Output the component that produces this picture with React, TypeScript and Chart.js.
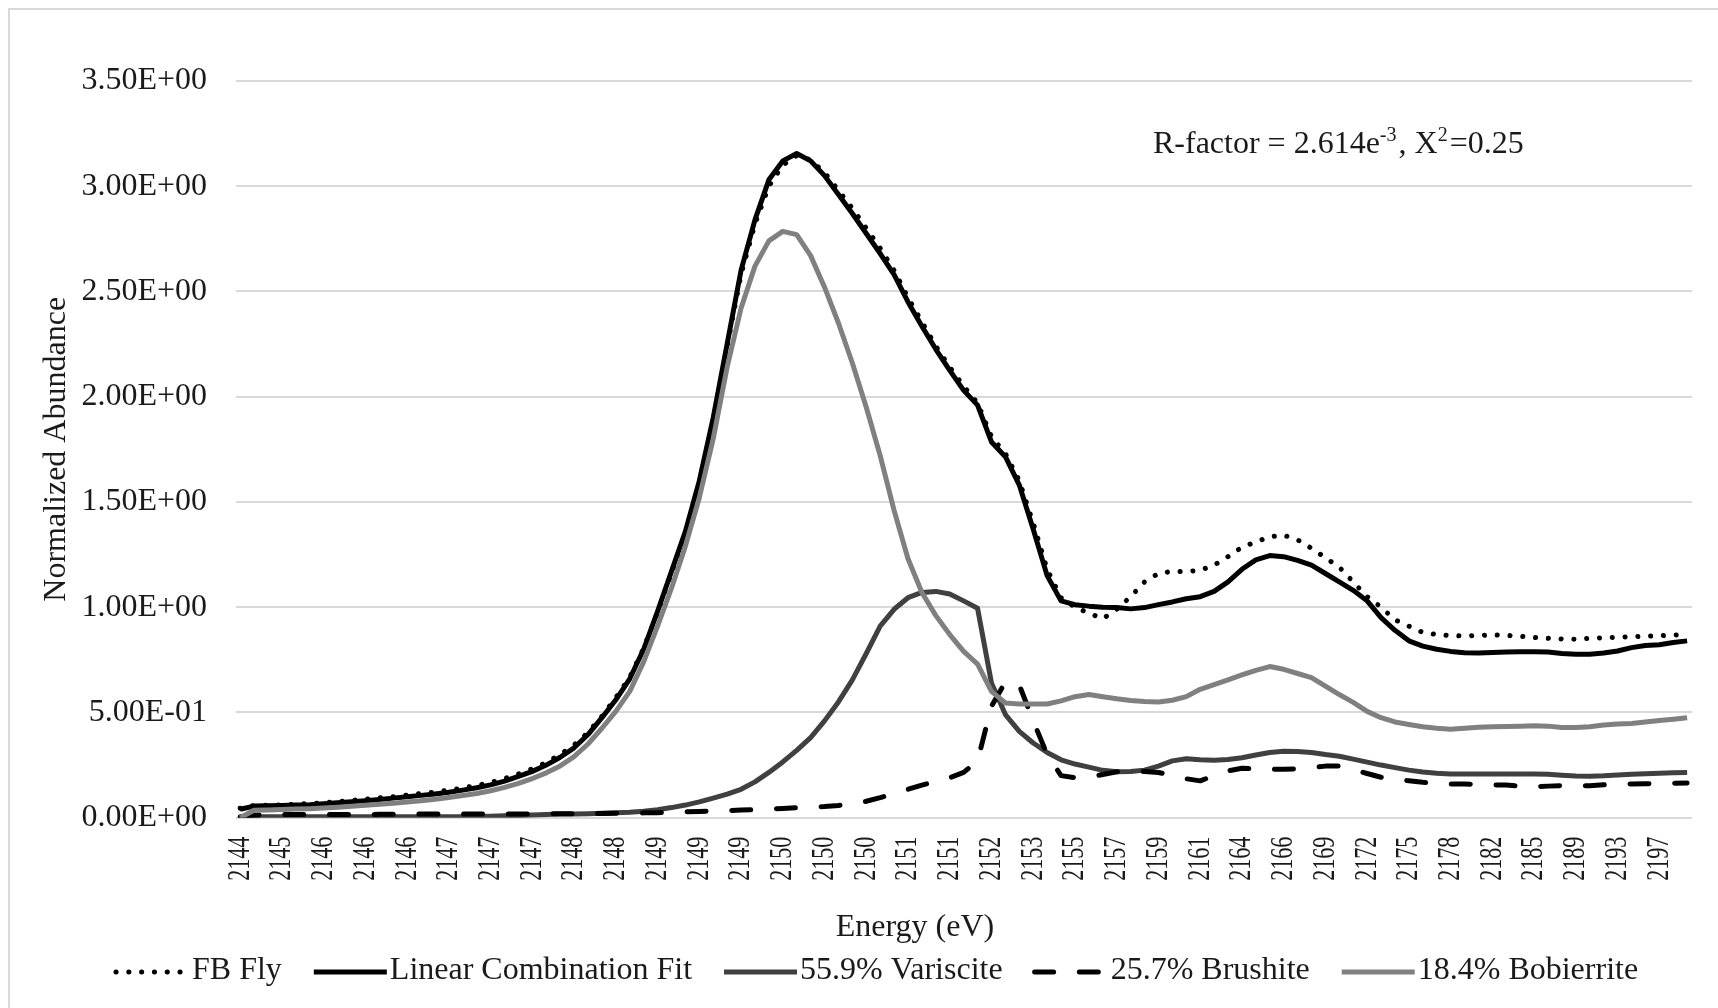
import React, { useEffect, useRef } from "react";
import { Chart, registerables } from "chart.js";

Chart.register(...registerables);

// Category tick labels (every 3rd energy point is labelled)
const energyTicks = [
  "2144", "2145", "2146", "2146", "2146", "2147", "2147", "2147", "2148", "2148",
  "2149", "2149", "2149", "2150", "2150", "2150", "2151", "2151", "2152", "2153",
  "2155", "2157", "2159", "2161", "2164", "2166", "2169", "2172", "2175", "2178",
  "2182", "2185", "2189", "2193", "2197",
];
const TICK_STEP = 3;

const seriesNames = [
  "FB Fly",
  "Linear Combination Fit",
  "55.9% Variscite",
  "25.7% Brushite",
  "18.4% Bobierrite",
];

const fbFly = [
  0.045, 0.058, 0.060, 0.061, 0.064, 0.067, 0.071, 0.077, 0.082, 0.088,
  0.094, 0.100, 0.107, 0.115, 0.122, 0.131, 0.141, 0.153, 0.167, 0.186,
  0.208, 0.232, 0.262, 0.300, 0.346, 0.405, 0.482, 0.570, 0.668, 0.805,
  0.975, 1.160, 1.350, 1.590, 1.890, 2.240, 2.580, 2.820, 3.000, 3.100,
  3.145, 3.125, 3.065, 2.980, 2.895, 2.800, 2.705, 2.600, 2.470, 2.355,
  2.240, 2.140, 2.050, 1.970, 1.810, 1.730, 1.600, 1.400, 1.180, 1.045,
  1.000, 0.972, 0.945, 0.990, 1.050, 1.120, 1.160, 1.170, 1.170, 1.175,
  1.200, 1.240, 1.285, 1.310, 1.335, 1.342, 1.320, 1.280, 1.235, 1.190,
  1.120, 1.050, 1.000, 0.940, 0.910, 0.880, 0.870, 0.865, 0.863, 0.866,
  0.868, 0.866, 0.862, 0.856, 0.852, 0.849, 0.848, 0.852, 0.855, 0.857,
  0.860, 0.862, 0.864, 0.868, 0.870,
];

const lcFit = [
  0.040, 0.055, 0.057, 0.058, 0.060, 0.062, 0.066, 0.071, 0.076, 0.081,
  0.087, 0.093, 0.099, 0.106, 0.113, 0.121, 0.131, 0.142, 0.156, 0.174,
  0.196, 0.220, 0.250, 0.287, 0.332, 0.395, 0.475, 0.560, 0.660, 0.800,
  0.980, 1.170, 1.360, 1.600, 1.900, 2.250, 2.600, 2.840, 3.030, 3.120,
  3.155, 3.120, 3.050, 2.960, 2.870, 2.775, 2.680, 2.580, 2.450, 2.335,
  2.225, 2.125, 2.030, 1.960, 1.785, 1.715, 1.580, 1.370, 1.150, 1.030,
  1.012, 1.005, 1.000, 0.998, 0.992, 0.998, 1.012, 1.025, 1.040, 1.050,
  1.075, 1.120, 1.180, 1.225, 1.245, 1.240, 1.222, 1.200, 1.160, 1.120,
  1.080, 1.030, 0.950, 0.890, 0.840, 0.815, 0.800, 0.790, 0.784, 0.782,
  0.785, 0.787, 0.788, 0.788, 0.787, 0.780, 0.776, 0.776, 0.782, 0.792,
  0.808, 0.818, 0.822, 0.832, 0.840,
];

const variscite = [
  0.000, 0.004, 0.005, 0.005, 0.005, 0.005, 0.005, 0.005, 0.005, 0.005,
  0.005, 0.005, 0.005, 0.005, 0.005, 0.005, 0.005, 0.006, 0.007, 0.009,
  0.011, 0.013, 0.015, 0.017, 0.018, 0.019, 0.021, 0.023, 0.026, 0.031,
  0.038, 0.048, 0.060, 0.075, 0.093, 0.112, 0.135, 0.170, 0.215, 0.265,
  0.320, 0.380, 0.460, 0.550, 0.655, 0.780, 0.910, 0.990, 1.045, 1.070,
  1.075, 1.063, 1.030, 0.995, 0.640, 0.490, 0.410, 0.355, 0.310, 0.275,
  0.255, 0.240, 0.225, 0.218, 0.220, 0.226, 0.245, 0.270, 0.280, 0.275,
  0.273, 0.276, 0.285, 0.298, 0.310, 0.316, 0.315, 0.310, 0.300, 0.292,
  0.278, 0.264, 0.250, 0.238, 0.226, 0.217, 0.211, 0.208, 0.207, 0.207,
  0.207, 0.207, 0.207, 0.207, 0.206, 0.202, 0.198, 0.197, 0.199, 0.203,
  0.206, 0.209, 0.211, 0.213, 0.215,
];

const brushite = [
  0.005, 0.012, 0.015, 0.015, 0.015, 0.015, 0.015, 0.015, 0.015, 0.015,
  0.016, 0.016, 0.017, 0.017, 0.017, 0.017, 0.017, 0.017, 0.018, 0.018,
  0.018, 0.018, 0.018, 0.019, 0.019, 0.020, 0.020, 0.021, 0.022, 0.023,
  0.024, 0.025, 0.028, 0.030, 0.032, 0.034, 0.036, 0.038, 0.041, 0.044,
  0.047, 0.050, 0.053, 0.058, 0.066, 0.078, 0.095, 0.115, 0.135, 0.155,
  0.172, 0.190, 0.215, 0.270, 0.530, 0.645, 0.630, 0.460, 0.300, 0.200,
  0.190, 0.192, 0.205, 0.218, 0.220, 0.220, 0.215, 0.200, 0.185, 0.175,
  0.200, 0.222, 0.235, 0.232, 0.230, 0.230, 0.232, 0.238, 0.245, 0.245,
  0.228, 0.210, 0.192, 0.182, 0.175, 0.168, 0.163, 0.160, 0.160, 0.158,
  0.156, 0.155, 0.150, 0.147, 0.150, 0.152, 0.151, 0.152, 0.156, 0.159,
  0.160, 0.161, 0.163, 0.164, 0.165,
];

const bobierrite = [
  0.000, 0.035, 0.037, 0.039, 0.041, 0.043, 0.046, 0.050, 0.054, 0.059,
  0.064, 0.069, 0.075, 0.081, 0.088, 0.096, 0.105, 0.115, 0.128, 0.144,
  0.163, 0.186, 0.213, 0.246, 0.290, 0.350, 0.425, 0.505, 0.600, 0.740,
  0.910, 1.090, 1.290, 1.520, 1.800, 2.140, 2.420, 2.620, 2.740, 2.785,
  2.770, 2.670, 2.520, 2.350, 2.160, 1.950, 1.720, 1.460, 1.230, 1.070,
  0.960, 0.870, 0.790, 0.730, 0.600, 0.545, 0.540, 0.540, 0.540, 0.555,
  0.575, 0.585, 0.575, 0.565, 0.557, 0.552, 0.550, 0.558, 0.575, 0.610,
  0.632, 0.655, 0.678, 0.700, 0.718, 0.705, 0.685, 0.665, 0.625, 0.585,
  0.548, 0.505, 0.475, 0.455, 0.443, 0.432, 0.425, 0.420, 0.425, 0.430,
  0.432, 0.433, 0.435, 0.437, 0.435, 0.428, 0.428, 0.432, 0.440, 0.445,
  0.448, 0.455, 0.462, 0.468, 0.475,
];

const FONT = '"Liberation Serif", "Times New Roman", serif';
const TEXT = "#1a1a1a";

function sci(v: number): string {
  if (Math.abs(v) < 1e-12) return "0.00E+00";
  let e = Math.floor(Math.log10(Math.abs(v)) + 1e-9);
  let m = v / Math.pow(10, e);
  if (Math.abs(m) >= 9.995) {
    m /= 10;
    e += 1;
  }
  const sign = e < 0 ? "-" : "+";
  return m.toFixed(2) + "E" + sign + String(Math.abs(e)).padStart(2, "0");
}

const toPoints = (arr: number[]) => arr.map((y, i) => ({ x: i, y }));

const decorPlugin = {
  id: "decor",
  beforeDraw(chart: any) {
    const { ctx, width, height } = chart;
    ctx.save();
    ctx.fillStyle = "#ffffff";
    ctx.fillRect(0, 0, width, height);
    ctx.fillStyle = "#d9d9d9";
    ctx.fillRect(0, 0, width, 2);
    ctx.fillRect(0, 0, 2, height);
    ctx.restore();
  },
  afterDraw(chart: any) {
    const { ctx } = chart;
    const xs = chart.scales.x;
    const area = chart.chartArea;
    ctx.save();
    ctx.fillStyle = TEXT;

    // x tick labels (rotated, condensed)
    ctx.font = `32px ${FONT}`;
    energyTicks.forEach((lab, k) => {
      const px = xs.getPixelForValue(k * TICK_STEP);
      ctx.save();
      ctx.translate(px, area.bottom + 19);
      ctx.rotate(-Math.PI / 2);
      ctx.scale(0.69, 1);
      ctx.textAlign = "right";
      ctx.textBaseline = "middle";
      ctx.fillText(lab, 0, 0);
      ctx.restore();
    });

    // y axis title
    ctx.save();
    ctx.translate(49, (area.top + area.bottom) / 2);
    ctx.rotate(-Math.PI / 2);
    ctx.textAlign = "center";
    ctx.textBaseline = "middle";
    ctx.font = `32px ${FONT}`;
    ctx.fillText("Normalized Abundance", 0, 0);
    ctx.restore();

    // x axis title
    ctx.textAlign = "center";
    ctx.textBaseline = "middle";
    ctx.font = `32px ${FONT}`;
    ctx.fillText("Energy (eV)", 907, 920);

    // annotation
    ctx.textAlign = "left";
    ctx.textBaseline = "alphabetic";
    let ax = 1145;
    const base = 145;
    const big = `32px ${FONT}`;
    const small = `20px ${FONT}`;
    const parts: [string, boolean][] = [
      ["R-factor = 2.614e", false],
      ["-3", true],
      [", X", false],
      ["2", true],
      ["=0.25", false],
    ];
    parts.forEach(([t, sup]) => {
      ctx.font = sup ? small : big;
      ctx.fillText(t, ax, sup ? base - 12 : base);
      ax += ctx.measureText(t).width + (sup ? 2 : 0);
    });

    // legend
    let lx = 108;
    const ly = 963;
    chart.data.datasets.forEach((ds: any) => {
      ctx.save();
      ctx.strokeStyle = ds.borderColor;
      ctx.lineWidth = ds.borderWidth;
      ctx.lineCap = ds.borderCapStyle || "butt";
      ctx.setLineDash(ds.borderDash || []);
      ctx.beginPath();
      ctx.moveTo(lx, ly + 1);
      ctx.lineTo(lx + 73, ly + 1);
      ctx.stroke();
      ctx.restore();
      ctx.font = `32px ${FONT}`;
      ctx.textAlign = "left";
      ctx.textBaseline = "middle";
      ctx.fillStyle = TEXT;
      ctx.fillText(ds.label, lx + 76, ly);
      lx += 76 + ctx.measureText(ds.label).width + 32;
    });

    ctx.restore();
  },
};

export default function App() {
  const ref = useRef<HTMLCanvasElement>(null);

  useEffect(() => {
    const canvas = ref.current;
    if (!canvas) return;
    const chart = new Chart(canvas, {
      type: "line",
      data: {
        datasets: [
          {
            label: seriesNames[0],
            data: toPoints(fbFly),
            borderColor: "#000000",
            borderWidth: 5,
            borderDash: [0.1, 12.7],
            borderCapStyle: "round",
            order: 5,
          },
          {
            label: seriesNames[1],
            data: toPoints(lcFit),
            borderColor: "#000000",
            borderWidth: 5,
            borderCapStyle: "butt",
            order: 4,
          },
          {
            label: seriesNames[2],
            data: toPoints(variscite),
            borderColor: "#404040",
            borderWidth: 5,
            borderCapStyle: "butt",
            order: 3,
          },
          {
            label: seriesNames[3],
            data: toPoints(brushite),
            borderColor: "#000000",
            borderWidth: 5,
            borderDash: [19, 25.7],
            borderCapStyle: "round",
            order: 2,
          },
          {
            label: seriesNames[4],
            data: toPoints(bobierrite),
            borderColor: "#808080",
            borderWidth: 5,
            borderCapStyle: "butt",
            order: 1,
          },
        ] as any,
      },
      options: {
        responsive: false,
        animation: false,
        devicePixelRatio: 1,
        events: [],
        layout: { padding: { left: 0, right: 26, top: 72.9, bottom: 190.3 } },
        elements: {
          line: { tension: 0, borderJoinStyle: "round", fill: false },
          point: { radius: 0, hoverRadius: 0 },
        },
        plugins: {
          legend: { display: false },
          tooltip: { enabled: false },
          title: { display: false },
        },
        scales: {
          x: { type: "linear", display: false, min: -0.3, max: 104.35 },
          y: {
            min: 0,
            max: 3.5,
            afterFit: (s: any) => {
              s.width = 228;
            },
            border: { display: false },
            grid: { color: "#d9d9d9", lineWidth: 2, drawTicks: false },
            ticks: {
              stepSize: 0.5,
              padding: 29,
              color: TEXT,
              font: { family: FONT, size: 32 },
              callback: (v: any) => sci(Number(v)),
            },
          },
        },
      } as any,
      plugins: [decorPlugin],
    });
    return () => chart.destroy();
  }, []);

  return (
    <div
      style={{
        position: "fixed",
        left: 8,
        top: 8,
        width: 1710,
        height: 1000,
        background: "#ffffff",
      }}
    >
      <canvas
        ref={ref}
        width={1710}
        height={1000}
        style={{ display: "block", width: 1710, height: 1000 }}
      />
    </div>
  );
}
